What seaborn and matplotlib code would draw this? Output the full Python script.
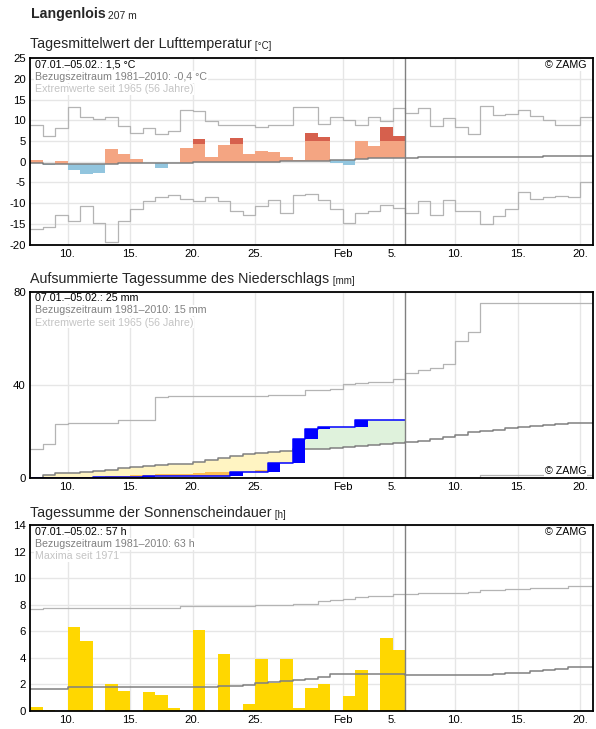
import numpy as np
import pandas as pd
import matplotlib
matplotlib.use("Agg")
import matplotlib.pyplot as plt
import seaborn as sns

# day 0 = 07.01.; 45 days on the axis, observations for the first 30
n_days = 45
n_obs = 30
tick_pos = [3, 8, 13, 18, 25, 29, 34, 39, 44]
tick_labels = ["10.", "15.", "20.", "25.", "Feb", "5.", "10.", "15.", "20."]

# temperature (°C)
temp_obs = [0.4, -0.8, 0.2, -1.9, -3.0, -2.7, 3.1, 1.9, 0.6, -0.35,
            -1.5, -0.3, 3.3, 5.5, 1.05, 4.0, 5.7, 1.9, 2.6, 2.3,
            1.1, 0.4, 6.9, 6.0, -0.2, -0.7, 5.0, 3.8, 8.4, 6.2]
# upper limit of the light part of a bar (above it the bar is dark red)
temp_cap = [None] * 13 + [4.4, None, None, 4.4] + [None] * 5 + [5.0, 5.0] + [None] * 4 + [5.0, 5.0]
temp_mean = [-0.4, -0.5, -0.5, -0.6, -0.6, -0.6, -0.5, -0.4, -0.4, -0.35,
             -0.3, -0.3, -0.2, -0.1, 0.0, 0.0, 0.0, 0.0, 0.0, 0.05,
             0.1, 0.1, 0.1, 0.1, 0.4, 0.4, 0.6, 0.8, 0.8, 0.8,
             0.8, 1.05, 1.05, 1.05, 1.05, 1.05, 1.05, 1.05, 1.05, 1.05,
             1.05, 1.3, 1.3, 1.5, 1.5]
temp_max = [8.9, 6.3, 8.1, 13.2, 10.7, 10.4, 10.7, 8.7, 6.9, 8.2,
            6.6, 7.4, 12.4, 12.3, 9.9, 9.0, 8.8, 9.0, 8.3, 9.0,
            8.8, 13.2, 13.2, 9.1, 10.7, 10.1, 9.0, 10.7, 9.9, 12.9,
            11.7, 12.9, 8.6, 10.5, 8.3, 6.6, 13.4, 11.2, 11.5, 12.4,
            11.0, 10.1, 9.0, 9.0, 10.7]
temp_min = [-16.2, -15.7, -12.9, -14.2, -10.8, -14.9, -19.5, -14.2, -11.3, -9.6,
            -8.4, -8.1, -8.9, -9.6, -8.4, -9.6, -11.8, -12.9, -10.8, -9.2,
            -12.4, -8.1, -7.7, -9.2, -11.3, -14.7, -12.3, -11.8, -10.5, -11.1,
            -12.5, -9.5, -12.8, -9.2, -12.0, -12.0, -15.1, -13.2, -11.3, -7.2,
            -9.1, -8.4, -8.2, -8.4, -5.0]

# precipitation (mm)
prec_daily = [0, 0, 0, 0, 0, 0.3, 0, 0, 0, 0.6,
              0, 0, 0, 0, 0, 0, 1.8, 0, 0, 3.9,
              0, 10.3, 4.3, 0.7, 0.2, 0, 2.9, 0, 0, 0]
prec_low = [0, 0, 0.1, 0.3, 0.4, 0.6, 0.7, 1.0, 1.1, 1.3,
            1.6, 1.7, 1.9, 2.3, 2.7, 2.4, 2.5, 2.6, 3.6, 3.8,
            4.0, 4.5, 5.0, 5.5, 6.0, 6.5, 7.0, 7.5, 8.0, 8.5]
prec_mean = [0.2, 1.3, 2.2, 2.2, 2.7, 3.2, 3.6, 4.2, 4.9, 5.3,
             5.7, 5.9, 6.2, 6.7, 7.7, 8.6, 9.5, 10.3, 10.8, 11.2,
             11.6, 12.3, 12.3, 12.3, 12.8, 13.3, 13.8, 14.2, 14.6, 14.9,
             15.4, 15.8, 16.8, 17.6, 18.6, 19.7, 20.3, 20.7, 21.3, 21.7,
             22.2, 22.6, 23.0, 23.5, 23.7]
prec_max = [12.5, 14.7, 23.0, 23.7, 23.7, 23.7, 23.7, 25.0, 25.0, 25.0,
            34.8, 35.1, 35.1, 35.1, 35.1, 35.1, 35.1, 35.1, 35.1, 35.8,
            35.8, 35.8, 37.7, 37.7, 38.1, 40.4, 41.0, 41.2, 41.2, 42.3,
            45.3, 46.3, 47.1, 48.8, 59.0, 62.6, 75.1, 75.1, 75.1, 75.1,
            75.1, 75.1, 75.1, 75.1, 75.1]
prec_min = [0.1] * 36 + [1.4] * 9

# sunshine (h)
sun_obs = [0.3, 0.1, 0.0, 6.3, 5.3, 0.0, 2.0, 1.5, 0.0, 1.4,
           1.2, 0.2, 0.0, 6.1, 0.0, 4.3, 0.0, 0.5, 3.9, 2.1,
           3.9, 0.2, 1.7, 2.0, 0.0, 1.1, 3.1, 0.0, 5.5, 4.6]
sun_mean = [1.63, 1.63, 1.63, 1.78, 1.78, 1.78, 1.78, 1.78, 1.78, 1.78,
            1.78, 1.78, 1.78, 1.78, 1.78, 1.88, 1.88, 1.96, 2.1, 2.16,
            2.26, 2.35, 2.4, 2.6, 2.76, 2.76, 2.76, 2.76, 2.76, 2.76,
            2.7, 2.7, 2.7, 2.7, 2.7, 2.7, 2.7, 2.8, 2.9, 2.9,
            3.0, 3.07, 3.17, 3.3, 3.3]
sun_max = [7.7, 7.8, 7.8, 7.8, 7.8, 7.8, 7.8, 7.8, 7.8, 7.8,
           7.8, 7.8, 7.9, 7.9, 7.9, 7.9, 7.9, 7.9, 8.0, 8.0,
           8.0, 8.1, 8.1, 8.3, 8.37, 8.47, 8.57, 8.64, 8.64, 8.8,
           8.8, 8.87, 8.87, 8.87, 8.87, 8.94, 9.1, 9.1, 9.17, 9.17,
           9.25, 9.25, 9.25, 9.4, 9.4]

LIGHT = "#b4b4b4"
MID = "#808080"

sns.set_style("whitegrid")
plt.rcParams["font.family"] = ["Liberation Sans", "DejaVu Sans"]
plt.rcParams["axes.unicode_minus"] = False

W, H = 596, 729
fig = plt.figure(figsize=(W / 100, H / 100), dpi=100)


def panel(top, bottom):
    ax = fig.add_axes([30 / W, 1 - bottom / H, 562.5 / W, (bottom - top) / H])
    ax.set_xlim(0, n_days)
    ax.set_xticks(tick_pos)
    ax.set_xticklabels(tick_labels)
    ax.grid(True, color="#e6e6e6", lw=1.0)
    ax.set_axisbelow(True)
    for s in ax.spines.values():
        s.set_color("black")
        s.set_linewidth(1.3)
        s.set_zorder(20)
    ax.tick_params(length=0, labelsize=8.2, colors="black", pad=3)
    return ax


def step_line(ax, vals, color, lw=0.9, z=4):
    vals = np.asarray(vals, float)
    x = np.arange(len(vals) + 1)
    y = np.append(vals, vals[-1])
    sns.lineplot(x=x, y=y, drawstyle="steps-post", color=color, lw=lw,
                 ax=ax, estimator=None, sort=False, zorder=z)


def info(ax, lines):
    for i, (s, c) in enumerate(zip(lines, ["black", MID, "#c4c4c4"])):
        ax.annotate(s, xy=(0, 1), xycoords="axes fraction", xytext=(3.5, -1 - 8.9 * i),
                    textcoords="offset points", ha="left", va="top", fontsize=7.7,
                    color=c, bbox=dict(fc="white", ec="none", pad=0.5), zorder=10)


def zamg(ax, top=True):
    y = 1 if top else 0
    ax.annotate("© ZAMG", xy=(1, y), xycoords="axes fraction",
                xytext=(-4.5, -1.5 if top else 1.5), textcoords="offset points",
                ha="right", va="top" if top else "bottom", fontsize=7.7, color="black",
                bbox=dict(fc="white", ec="none", pad=0.5), zorder=10)


def heading(y_px, text, unit, size=10.3, bold=False, unit_size=7):
    t = fig.text(30.5 / W, 1 - y_px / H, text, fontsize=size, va="baseline",
                 fontweight="bold" if bold else "normal")
    plt.annotate(unit, xy=(1, 0), xycoords=t, xytext=(0, 0), textcoords="offset points",
                 fontsize=unit_size, va="bottom", ha="left")


days = np.arange(n_obs)

# ---- panel 1: temperature ----
ax1 = panel(58.3, 244.5)
obs = np.array(temp_obs)
mean30 = np.array(temp_mean[:n_obs])
cap = np.array(temp_cap, dtype=float)
light_top = np.where(np.isnan(cap), obs, np.minimum(obs, cap))
warm = obs >= mean30
ax1.bar(days[warm], light_top[warm] - mean30[warm], bottom=mean30[warm], width=1,
        align="edge", color="#f4a582", lw=0, zorder=2)
ax1.bar(days[~warm], obs[~warm] - mean30[~warm], bottom=mean30[~warm], width=1,
        align="edge", color="#92c5de", lw=0, zorder=2)
dark = ~np.isnan(cap) & (obs > np.nan_to_num(cap, nan=99))
ax1.bar(days[dark], obs[dark] - cap[dark], bottom=cap[dark], width=1,
        align="edge", color="#d6604d", lw=0, zorder=2)
step_line(ax1, temp_max, LIGHT)
step_line(ax1, temp_min, LIGHT)
step_line(ax1, temp_mean, MID, lw=1.1)
ax1.axvline(n_obs, color=MID, lw=1.0, zorder=5)
ax1.set_ylim(-20, 25)
ax1.set_yticks(np.arange(-20, 26, 5))
info(ax1, ["07.01.–05.02.: 1,5 °C", "Bezugszeitraum 1981–2010: -0,4 °C",
           "Extremwerte seit 1965 (56 Jahre)"])
zamg(ax1)

# ---- panel 2: precipitation ----
ax2 = panel(291.7, 478)
cum = np.cumsum(prec_daily)
pm30 = np.array(prec_mean[:n_obs])
lo = np.minimum(cum, pm30)
hi = np.maximum(cum, pm30)
dry = cum < pm30
ax2.bar(days[dry], (hi - lo)[dry], bottom=lo[dry], width=1, align="edge",
        color="#fff4c2", lw=0, zorder=1)
ax2.bar(days[~dry], (hi - lo)[~dry], bottom=lo[~dry], width=1, align="edge",
        color="#dff2dc", lw=0, zorder=1)
plow = np.array(prec_low)
under = plow > cum
ax2.bar(days[under], (plow - cum)[under], bottom=cum[under], width=1, align="edge",
        color="#fdbf52", lw=0, zorder=1.5)
step_line(ax2, prec_max, LIGHT)
step_line(ax2, prec_min, LIGHT)
step_line(ax2, prec_mean, MID, lw=1.1)
daily = np.array(prec_daily)
ax2.bar(days, daily, bottom=cum - daily, width=1, align="edge", color="#0000ff", lw=0, zorder=5)
step_line(ax2, cum, "#0000ff", lw=1.1, z=6)
ax2.axvline(n_obs, color=MID, lw=1.0, zorder=7)
ax2.set_ylim(0, 80)
ax2.set_yticks([0, 40, 80])
info(ax2, ["07.01.–05.02.: 25 mm", "Bezugszeitraum 1981–2010: 15 mm",
           "Extremwerte seit 1965 (56 Jahre)"])
zamg(ax2, top=False)

# ---- panel 3: sunshine ----
ax3 = panel(525.3, 711)
ax3.bar(days, sun_obs, width=1, align="edge", color="#ffd700", lw=0, zorder=2)
step_line(ax3, sun_max, LIGHT)
step_line(ax3, sun_mean, MID, lw=1.1)
ax3.axvline(n_obs, color=MID, lw=1.0, zorder=5)
ax3.set_ylim(0, 14)
ax3.set_yticks(np.arange(0, 15, 2))
info(ax3, ["07.01.–05.02.: 57 h", "Bezugszeitraum 1981–2010: 63 h", "Maxima seit 1971"])
zamg(ax3)

for ax in (ax1, ax2, ax3):
    ax.set_xlabel("")
    ax.set_ylabel("")

# headings
heading(17.7, "Langenlois", " 207 m", size=10.2, bold=True, unit_size=7.5)
heading(47.7, "Tagesmittelwert der Lufttemperatur", " [°C]")
heading(282.7, "Aufsummierte Tagessumme des Niederschlags", " [mm]")
heading(517.0, "Tagessumme der Sonnenscheindauer", " [h]")

fig.savefig("out.png", dpi=100)
